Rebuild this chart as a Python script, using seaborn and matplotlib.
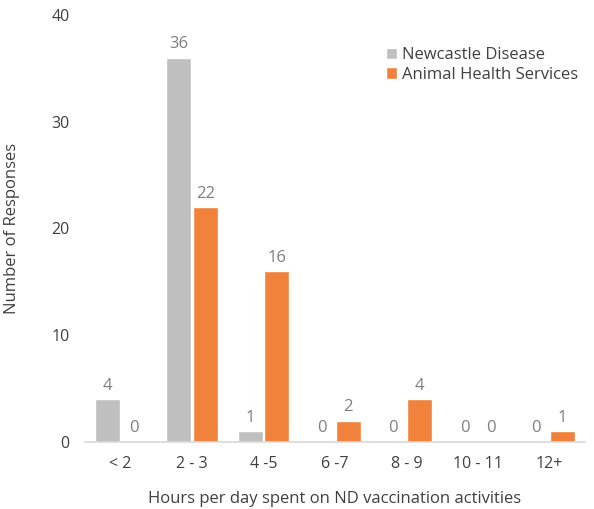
import matplotlib
matplotlib.use("Agg")
import matplotlib.pyplot as plt
import seaborn as sns
import pandas as pd

categories = ["< 2", "2 - 3", "4 -5", "6 -7", "8 - 9", "10 - 11", "12+"]
newcastle = [4, 36, 1, 0, 0, 0, 0]
animal_health = [0, 22, 16, 2, 4, 0, 1]
series_names = ["Newcastle Disease", "Animal Health Services"]
colors = ["#BFBFBF", "#F0823C"]

df = pd.DataFrame({
    "category": categories * 2,
    "value": newcastle + animal_health,
    "series": [series_names[0]] * len(categories) + [series_names[1]] * len(categories),
})

sns.set_theme(style="white")
plt.rcParams["font.family"] = ["Open Sans", "DejaVu Sans"]
text_color = "#404040"
label_color = "#7F7F7F"

fig = plt.figure(figsize=(5.94, 5.09), dpi=100)
ax = fig.add_axes([0.143, 0.1316, 0.842, 0.839])

sns.barplot(data=df, x="category", y="value", hue="series", order=categories,
            hue_order=series_names, palette=colors, width=0.74, gap=0.05,
            ax=ax, saturation=1)

for cont in ax.containers:
    ax.bar_label(cont, padding=4, fontsize=12, color=label_color)

ax.set_ylim(0, 40)
ax.set_yticks([0, 10, 20, 30, 40])
ax.set_xlim(-0.5, len(categories) - 0.5)
for s in ["top", "right", "left"]:
    ax.spines[s].set_visible(False)
ax.spines["bottom"].set_color("#D9D9D9")
ax.spines["bottom"].set_linewidth(1.2)
ax.tick_params(axis="both", length=0, labelsize=11.5, colors=text_color, pad=10)
ax.tick_params(axis="y", pad=11)

ax.set_xlabel("Hours per day spent on ND vaccination activities", fontsize=12,
              color=text_color, labelpad=14)
ax.set_ylabel("Number of Responses", fontsize=12, color=text_color)
ax.yaxis.set_label_coords(-0.13, 0.5)

leg = ax.legend(loc="upper right", bbox_to_anchor=(1.0, 0.94), frameon=False,
                fontsize=12, handlelength=0.7, handleheight=0.7,
                handletextpad=0.3, labelspacing=0.2, borderaxespad=0)
for t in leg.get_texts():
    t.set_color(text_color)

fig.savefig("out.png", dpi=100)
